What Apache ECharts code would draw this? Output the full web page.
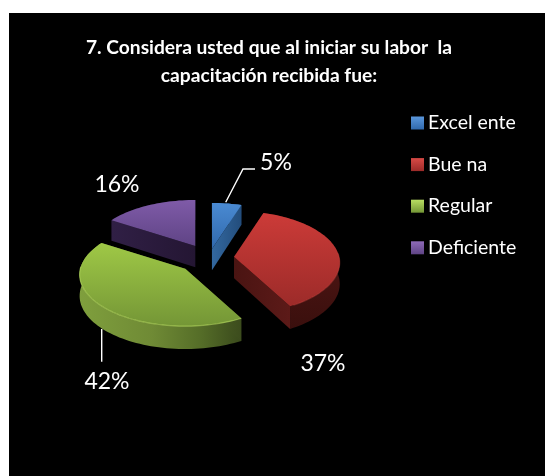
<!DOCTYPE html>
<html><head><meta charset="utf-8">
<style>html,body{margin:0;padding:0;background:#fff}#c{width:545px;height:476px}</style>
<script src="https://cdn.jsdelivr.net/npm/echarts@6/dist/echarts.min.js"></script>
</head><body><div id="c"></div>
<script>
const categories = ['Excel ente', 'Bue na', 'Regular', 'Deficiente'];
const values = [5, 37, 42, 16];
const explode = [0.18, 0.24, 0.31, 0.27];
const drawOrder = [0, 3, 1, 2];
const labelPos = [[276, 163], [323, 363.5], [107, 381.5], [117, 184.5]];
const titleText = '7. Considera usted que al iniciar su labor  la\ncapacitación recibida fue:';
const palettes = [
  {light:'#4a8ad2', main:'#3069ad', cut:['#33689f','#234d7c'], wall:['#2b5d94','#1d4068'], rim:'#5a97dc', rimOp:0},
  {light:'#cc3b38', main:'#9c2b29', cut:['#4a1412','#5c1a18'], wall:['#581917','#3a0f0d'], rim:'#d84a46', rimOp:0.35},
  {light:'#9fc846', main:'#749636', cut:['#5b742c','#3c4c1d'], wall:null, rim:'#b9de62', rimOp:0.6},
  {light:'#7f5ba8', main:'#5f4485', cut:['#301f45','#241633'], wall:['#2e1e42','#241633'], rim:'#8e6ab8', rimOp:0}
];
const CX = 209, CY = 258, RX = 105, RY = 51, PERSP = 0.11, DEPTH = 21.3;
const G = echarts.graphic;

function rimPoint(ox, oy, deg, drop) {
  const t = deg * Math.PI / 180, s = 1 / (1 + PERSP * Math.cos(t));
  const dy = drop ? DEPTH * (1 + (s - 1) * 0.6) : 0;
  return [ox + RX * Math.sin(t) * s, oy - RY * Math.cos(t) * s + dy];
}
function arcPoints(ox, oy, a, b, drop) {
  const n = Math.max(4, Math.ceil((b - a) / 2)), out = [];
  for (let i = 0; i <= n; i++) out.push(rimPoint(ox, oy, a + (b - a) * i / n, drop));
  return out;
}
function makeRender(idx) {
  return function (params, api) {
    const start = api.value(0), val = api.value(1);
    const a = start * 3.6, b = (start + val) * 3.6, mid = (a + b) / 2 * Math.PI / 180;
    const f = explode[idx];
    const ox = CX + f * RX * Math.sin(mid), oy = CY - f * RY * Math.cos(mid);
    const p = palettes[idx], kids = [];
    const arc = arcPoints(ox, oy, a, b, false);
    const arcLow = arcPoints(ox, oy, a, b, true).reverse();
    const wallFill = idx === 2
      ? new G.LinearGradient(0, 0, 1, 0, [
          {offset:0, color:'#7f9f3d'}, {offset:0.45, color:'#6f8a35'},
          {offset:0.75, color:'#556d28'}, {offset:1, color:'#3a4a1c'}])
      : new G.LinearGradient(0, 0, 0, 1, [{offset:0, color:p.wall[0]}, {offset:1, color:p.wall[1]}]);
    kids.push({type:'polygon', shape:{points: arc.concat(arcLow)}, style:{fill: wallFill}});
    [a, b].forEach(function (d) {
      const e = rimPoint(ox, oy, d, false), l = rimPoint(ox, oy, d, true);
      kids.push({type:'polygon', shape:{points:[[ox, oy], e, l, [ox, oy + DEPTH]]},
        style:{fill: new G.LinearGradient(0, 0, 1, 0, [{offset:0, color:p.cut[0]}, {offset:1, color:p.cut[1]}])}});
    });
    kids.push({type:'polygon', shape:{points: [[ox, oy]].concat(arc)},
      style:{fill: new G.LinearGradient(0, 0, 0, 1, [{offset:0, color:p.light}, {offset:1, color:p.main}])}});
    const front = arc.filter(function (q) { return q[1] > oy - 5; });
    if (front.length > 1 && p.rimOp) kids.push({type:'polyline', shape:{points: front.slice(0, -1)},
      style:{stroke:p.rim, lineWidth:1.2, fill:null, opacity:p.rimOp}});
    kids.push({type:'text', style:{text: val + '%', x: labelPos[idx][0], y: labelPos[idx][1],
      fill:'#fff', font:'23px Lato', align:'center', verticalAlign:'middle'}});
    if (idx === 0) kids.push({type:'polyline', shape:{points: [[225.7, 202.3], [243, 169], [255, 169]]},
      style:{stroke:'#fff', lineWidth:1.4, fill:null}});
    if (idx === 2) kids.push({type:'polyline', shape:{points: [[101.7, 329], [101.7, 361.7]]},
      style:{stroke:'#fff', lineWidth:1.4, fill:null}});
    return {type:'group', children: kids};
  };
}
let acc = 0;
const starts = values.map(function (v) { const s = acc; acc += v; return s; });
const chart = echarts.init(document.getElementById('c'), null, {renderer:'canvas'});
chart.setOption({
  animation: false,
  backgroundColor: '#fff',
  graphic: [{type:'rect', z:-10, shape:{x:9, y:13, width:536, height:463}, style:{fill:'#000'}}],
  title: {text: titleText, left: 264, top: 29, textAlign: 'center',
    textStyle: {color:'#fff', fontFamily:'Lato', fontWeight:'bold', fontSize:19.2, lineHeight:28}},
  legend: {orient:'vertical', left:411, top:113, itemWidth:13, itemHeight:13, itemGap:21.6, padding:0,
    selectedMode:false,
    textStyle:{color:'#fff', fontFamily:'Lato', fontSize:19.5, padding:[0,0,0,-1]},
    data: categories.map(function (c, i) {
      return {name:c, icon:'rect', itemStyle:{color:new G.LinearGradient(0,0,0,1,[
        {offset:0, color:palettes[i].rim}, {offset:1, color:palettes[i].main}])}};
    })},
  series: drawOrder.map(function (i) {
    return {type:'custom', name:categories[i], coordinateSystem:'none', silent:true,
      itemStyle:{color:palettes[i].main},
      dimensions:['start','value'],
      encode:{value:[0,1]},
      data:[[starts[i], values[i]]], renderItem: makeRender(i)};
  })
});
</script></body></html>
